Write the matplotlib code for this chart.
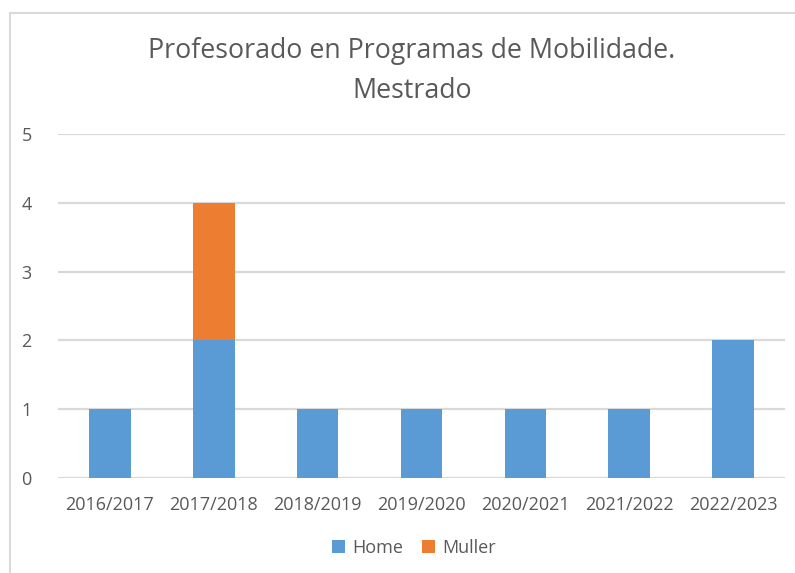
import matplotlib
matplotlib.use("Agg")
import matplotlib.pyplot as plt
from matplotlib.patches import Rectangle
import numpy as np

plt.rcParams['font.family'] = ['Open Sans', 'DejaVu Sans']

years = ["2016/2017", "2017/2018", "2018/2019", "2019/2020", "2020/2021", "2021/2022", "2022/2023"]
home = [1, 2, 1, 1, 1, 1, 2]
muller = [0, 2, 0, 0, 0, 0, 0]

text_color = "#595959"
grid_color = "#D9D9D9"

fig = plt.figure(figsize=(7.95, 5.73), dpi=100)
fig.patches.append(Rectangle((10 / 795, -0.1), 1.2, 1 - 13 / 573 + 0.1,
                             transform=fig.transFigure, fill=False,
                             edgecolor="#D9D9D9", linewidth=1.5))

ax = fig.add_axes([58 / 795, 95 / 573, (785 - 58) / 795, (478 - 134) / 573])
x = np.arange(len(years))
ax.bar(x, home, width=0.4, color="#5B9BD5", label="Home", zorder=3)
ax.bar(x, muller, width=0.4, bottom=home, color="#ED7D31", label="Muller", zorder=3)

ax.set_xlim(-0.5, len(years) - 0.5)
ax.set_ylim(0, 5)
ax.set_yticks(range(6))
ax.set_xticks(x)
ax.set_xticklabels(years)
ax.yaxis.grid(True, color=grid_color, linewidth=1.6, zorder=0)
for s in ax.spines.values():
    s.set_visible(False)
ax.tick_params(axis="both", length=0, colors=text_color, labelsize=13)
ax.tick_params(axis="y", pad=19)
ax.tick_params(axis="x", pad=13)

fig.text(412 / 795, 1 - 51 / 573, "Profesorado en Programas de Mobilidade.",
         ha="center", va="center", fontsize=19.3, color=text_color)
fig.text(412 / 795, 1 - 91 / 573, "Mestrado",
         ha="center", va="center", fontsize=19.3, color=text_color)

ax.legend(loc="center", bbox_to_anchor=(414 / 795, 1 - 548 / 573),
          bbox_transform=fig.transFigure, ncol=2, frameon=False,
          fontsize=13, labelcolor=text_color, handlelength=0.75,
          handleheight=0.75, columnspacing=1.0, handletextpad=0.4)

fig.savefig("out.png", dpi=100, facecolor="white")
